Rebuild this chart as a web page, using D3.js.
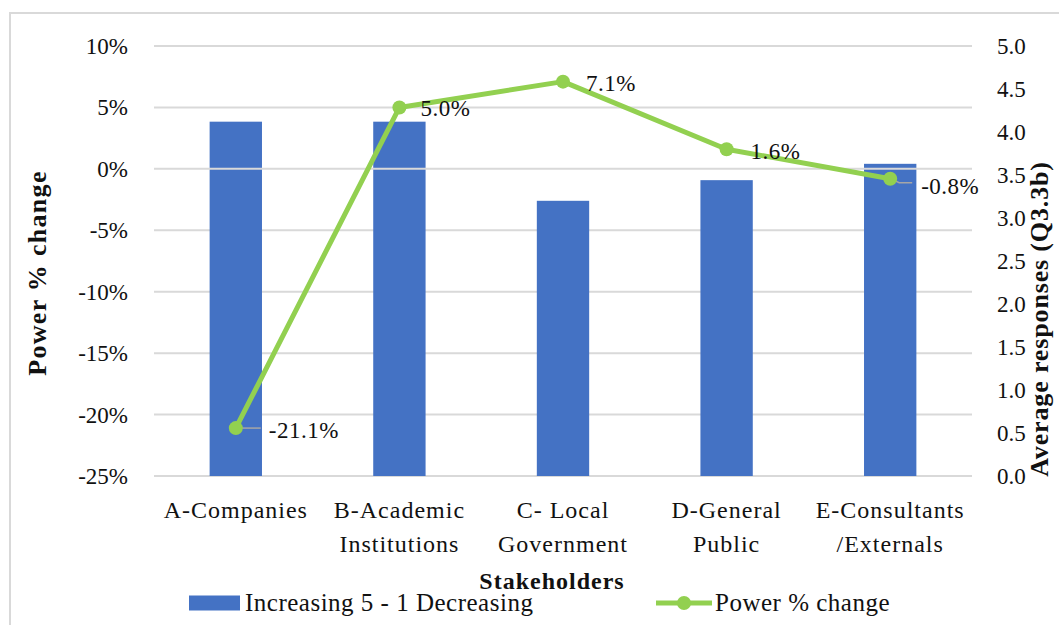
<!DOCTYPE html>
<html>

<head>
  <meta http-equiv="content-type" content="text/html; charset=utf-8">
  <title>Stakeholders: power % change and average responses</title>
  <style>
    body {
      margin: 0;
      background: #fff;
    }

    text {
      font-family: "Liberation Serif", "Times New Roman", serif;
      fill: #111;
    }

    .tick_label {
      font-size: 23px;
    }

    .cat_label {
      font-size: 24px;
      letter-spacing: 1px;
      text-anchor: middle;
    }

    .axis_title {
      font-size: 26px;
      font-weight: bold;
      text-anchor: middle;
    }

    .data_label {
      font-size: 23px;
      letter-spacing: 0.5px;
    }

    .legend_label {
      font-size: 25px;
      letter-spacing: 0.5px;
    }

    .grid {
      stroke: #d9d9d9;
      stroke-width: 2;
    }
  </style>
</head>

<body>
  <svg id="canvas"></svg>
  <script src="https://cdn.jsdelivr.net/npm/d3@7"></script>
  <script>

    // data
    const categories = ["A-Companies", "B-Academic Institutions", "C- Local Government", "D-General Public", "E-Consultants /Externals"];
    const categoryLines = [["A-Companies"], ["B-Academic", "Institutions"], ["C- Local", "Government"], ["D-General", "Public"], ["E-Consultants", "/Externals"]];
    const avgResponses = [4.12, 4.12, 3.20, 3.44, 3.63];
    const powerChange = [-0.211, 0.050, 0.071, 0.016, -0.008];
    const leftTicks = [-0.25, -0.20, -0.15, -0.10, -0.05, 0, 0.05, 0.10];
    const rightTicks = [0, 0.5, 1, 1.5, 2, 2.5, 3, 3.5, 4, 4.5, 5];
    const seriesNames = ["Increasing 5 - 1 Decreasing", "Power % change"];

    const colors = { bar: "#4472c4", line: "#92d050", leader: "#a6a6a6", border: "#d9d9d9" };
    const dims = { width: 1059, height: 625, left: 154, right: 972, top: 46, bottom: 476 };

    // label nudges (Excel moved the first and last labels away, with leader lines)
    const labelLayout = [
      { dx: 33, dy: 2, leader: [[0, 0], [25, 0]] },
      { dx: 21, dy: 1 },
      { dx: 23, dy: 1.5 },
      { dx: 24, dy: 1.5 },
      { dx: 31, dy: 7, leader: [[0, 0], [9, 4], [22, 4]] }
    ];

    const pct0 = v => d3.format(".0%")(v).replace("\u2212", "-");
    const pct1 = v => d3.format(".1%")(v).replace("\u2212", "-");

    const svg = d3.select("svg#canvas")
      .attr("width", dims.width)
      .attr("height", dims.height);

    svg.append("rect")
      .attr("x", 10).attr("y", 13)
      .attr("width", dims.width + 20).attr("height", dims.height + 20)
      .attr("fill", "#fff")
      .attr("stroke", colors.border)
      .attr("stroke-width", 2);

    const x = d3.scaleBand().domain(categories).range([dims.left, dims.right]);
    const yLeft = d3.scaleLinear().domain([-0.25, 0.10]).range([dims.bottom, dims.top]);
    const yRight = d3.scaleLinear().domain([0, 5]).range([dims.bottom, dims.top]);
    const barW = x.bandwidth() * 0.32;

    // gridlines (behind bars)
    svg.selectAll(".grid")
      .data(leftTicks.filter(t => t != 0))
      .enter().append("line")
      .attr("class", "grid")
      .attr("x1", dims.left).attr("x2", dims.right)
      .attr("y1", t => yLeft(t)).attr("y2", t => yLeft(t));

    svg.selectAll(".bar")
      .data(avgResponses)
      .enter().append("rect")
      .attr("class", "bar")
      .attr("x", (_, i) => x(categories[i]) + (x.bandwidth() - barW) / 2)
      .attr("width", barW)
      .attr("y", v => yRight(v))
      .attr("height", v => yRight(0) - yRight(v))
      .attr("fill", colors.bar);

    // zero axis line sits on top of the bars
    svg.append("line")
      .attr("class", "grid")
      .attr("x1", dims.left).attr("x2", dims.right)
      .attr("y1", yLeft(0)).attr("y2", yLeft(0));

    // left axis labels
    svg.selectAll(".left_tick")
      .data(leftTicks)
      .enter().append("text")
      .attr("class", "tick_label left_tick")
      .attr("x", 128)
      .attr("y", t => yLeft(t) + 8)
      .attr("text-anchor", "end")
      .text(pct0);

    // right axis labels
    svg.selectAll(".right_tick")
      .data(rightTicks)
      .enter().append("text")
      .attr("class", "tick_label right_tick")
      .attr("x", 997)
      .attr("y", t => yRight(t) + 8)
      .text(d3.format(".1f"));

    // category labels
    const catG = svg.selectAll(".cat_label")
      .data(categoryLines)
      .enter().append("text")
      .attr("class", "cat_label")
      .attr("transform", (_, i) => "translate(" + (x(categories[i]) + x.bandwidth() / 2) + "," + (dims.bottom + 42) + ")");
    catG.selectAll("tspan")
      .data(d => d)
      .enter().append("tspan")
      .attr("x", 0)
      .attr("y", (_, j) => j * 34)
      .text(s => s);

    // axis titles
    svg.append("text")
      .attr("class", "axis_title")
      .attr("x", 552).attr("y", 589)
      .style("font-size", "24px")
      .style("letter-spacing", "1px")
      .text("Stakeholders");

    svg.append("text")
      .attr("class", "axis_title")
      .attr("transform", "translate(46,273)rotate(-90)")
      .style("letter-spacing", "1.3px")
      .text("Power % change");

    svg.append("text")
      .attr("class", "axis_title")
      .attr("transform", "translate(1048,319)rotate(-90)")
      .style("letter-spacing", "0.85px")
      .text("Average responses (Q3.3b)");

    // power % change line
    const pts = powerChange.map((v, i) => [x(categories[i]) + x.bandwidth() / 2, yLeft(v)]);

    svg.selectAll(".leader")
      .data(labelLayout.map((l, i) => ({ l, p: pts[i] })).filter(o => o.l.leader))
      .enter().append("polyline")
      .attr("class", "leader")
      .attr("points", o => o.l.leader.map(q => (o.p[0] + q[0]) + "," + (o.p[1] + q[1])).join(" "))
      .attr("fill", "none")
      .attr("stroke", colors.leader)
      .attr("stroke-width", 1.5);

    svg.append("path")
      .datum(pts)
      .attr("d", d3.line())
      .attr("fill", "none")
      .attr("stroke", colors.line)
      .attr("stroke-width", 5)
      .attr("stroke-linejoin", "round");

    svg.selectAll(".marker")
      .data(pts)
      .enter().append("circle")
      .attr("class", "marker")
      .attr("cx", p => p[0]).attr("cy", p => p[1])
      .attr("r", 7)
      .attr("fill", colors.line);

    svg.selectAll(".data_label")
      .data(powerChange)
      .enter().append("text")
      .attr("class", "data_label")
      .attr("x", (_, i) => pts[i][0] + labelLayout[i].dx)
      .attr("y", (_, i) => pts[i][1] + labelLayout[i].dy + 8)
      .text(pct1);

    // legend
    const legend = svg.append("g").attr("transform", "translate(0,603)");
    legend.append("rect")
      .attr("x", 189).attr("y", -7.5)
      .attr("width", 51).attr("height", 15)
      .attr("fill", colors.bar);
    legend.append("text")
      .attr("class", "legend_label")
      .attr("x", 245).attr("y", 8)
      .text(seriesNames[0]);
    legend.append("line")
      .attr("x1", 656).attr("x2", 712)
      .attr("stroke", colors.line)
      .attr("stroke-width", 5);
    legend.append("circle")
      .attr("cx", 684).attr("r", 7)
      .attr("fill", colors.line);
    legend.append("text")
      .attr("class", "legend_label")
      .attr("x", 715).attr("y", 8)
      .text(seriesNames[1]);

  </script>
</body>

</html>
